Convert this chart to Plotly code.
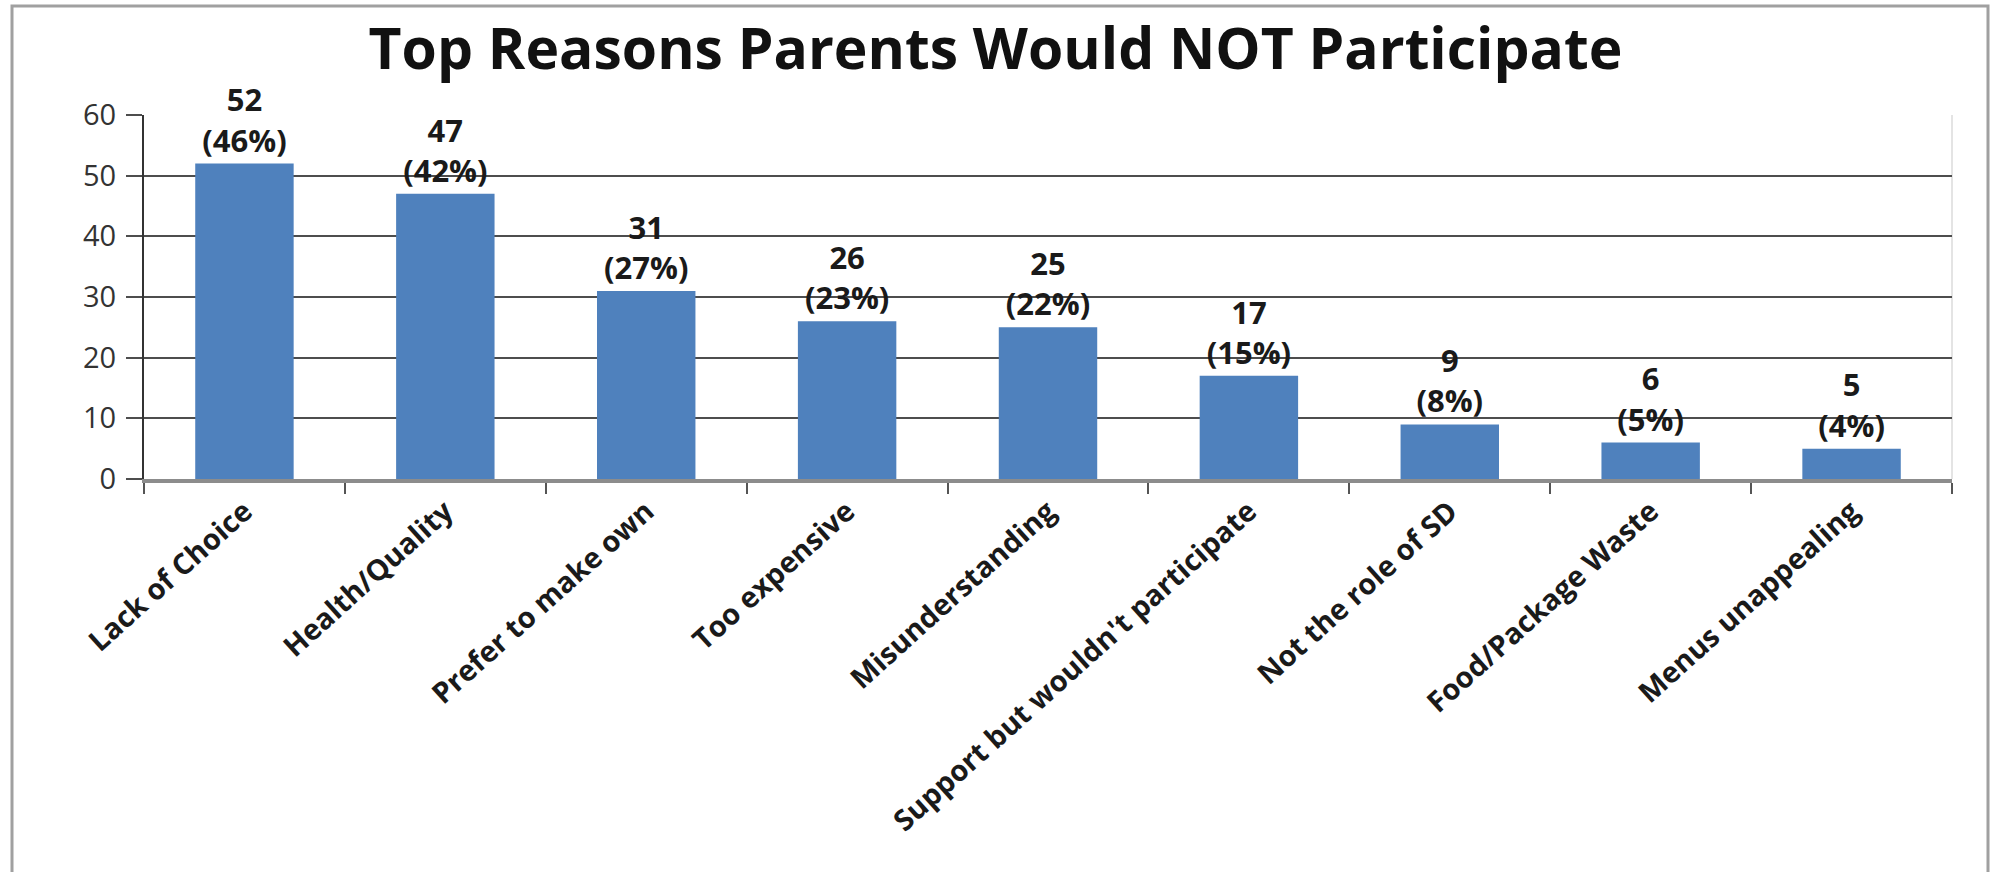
import plotly.graph_objects as go

# Survey results: reasons parents gave for not participating
reasons = [
    "Lack of Choice",
    "Health/Quality",
    "Prefer to make own",
    "Too expensive",
    "Misunderstanding",
    "Support but wouldn't participate",
    "Not the role of SD",
    "Food/Package Waste",
    "Menus unappealing",
]
counts = [52, 47, 31, 26, 25, 17, 9, 6, 5]
percents = [46, 42, 27, 23, 22, 15, 8, 5, 4]
y_ticks = [0, 10, 20, 30, 40, 50, 60]

W, H = 1991, 872
L, R, T, B = 144, 39, 115, 393
FONT = "Open Sans"

labels = [f"<b>{c}<br>({p}%)</b>" for c, p in zip(counts, percents)]

fig = go.Figure(
    go.Bar(
        x=reasons,
        y=counts,
        text=labels,
        textposition="outside",
        constraintext="none",
        cliponaxis=False,
        textfont=dict(family=FONT, size=31, color="#1a1a1a"),
        marker=dict(color="#4F81BD", line=dict(width=0)),
        hoverinfo="skip",
    )
)

# helpers to place frame shapes by pixel position
plot_w = W - L - R
plot_h = H - T - B


def px_x(v):
    return (v - L) / plot_w


def px_y(v):
    return (H - B - v) / plot_h


fig.update_layout(
    width=W,
    height=H,
    margin=dict(l=L, r=R, t=T, b=B, autoexpand=False),
    paper_bgcolor="white",
    plot_bgcolor="white",
    bargap=0.51,
    showlegend=False,
    title=dict(
        text="<b>Top Reasons Parents Would NOT Participate</b>",
        font=dict(family=FONT, size=57, color="#111111"),
        x=0.5,
        xanchor="center",
        xref="container",
        y=1 - 49 / H,
        yanchor="middle",
        yref="container",
    ),
    xaxis=dict(
        type="category",
        tickangle=-42,
        tickfont=dict(family=FONT, size=29, color="#1a1a1a", weight="bold"),
        showline=True,
        linecolor="#8c8c8c",
        linewidth=4,
        ticks="outside",
        tickson="boundaries",
        ticklen=11,
        tickwidth=2,
        tickcolor="#555555",
        showgrid=False,
        fixedrange=True,
    ),
    yaxis=dict(
        range=[0, 60],
        tickvals=y_ticks,
        tickfont=dict(family=FONT, size=29, color="#333333"),
        showgrid=True,
        gridcolor="#4d4d4d",
        gridwidth=2,
        zeroline=False,
        showline=True,
        linecolor="#333333",
        linewidth=2,
        ticks="outside",
        ticklen=16,
        tickwidth=2,
        tickcolor="#4d4d4d",
        ticklabelstandoff=4,
        fixedrange=True,
    ),
    shapes=[
        # faint right edge of the plot area
        dict(type="line", xref="paper", yref="paper", x0=1, x1=1, y0=0, y1=1,
             line=dict(color="#e4e4e4", width=2), layer="below"),
        # outer chart frame
        dict(type="rect", xref="paper", yref="paper",
             x0=px_x(12), x1=px_x(1988), y0=px_y(6), y1=px_y(900),
             line=dict(color="#a0a0a0", width=3), fillcolor="rgba(0,0,0,0)",
             layer="below"),
    ],
)

fig.write_html("out.html")
